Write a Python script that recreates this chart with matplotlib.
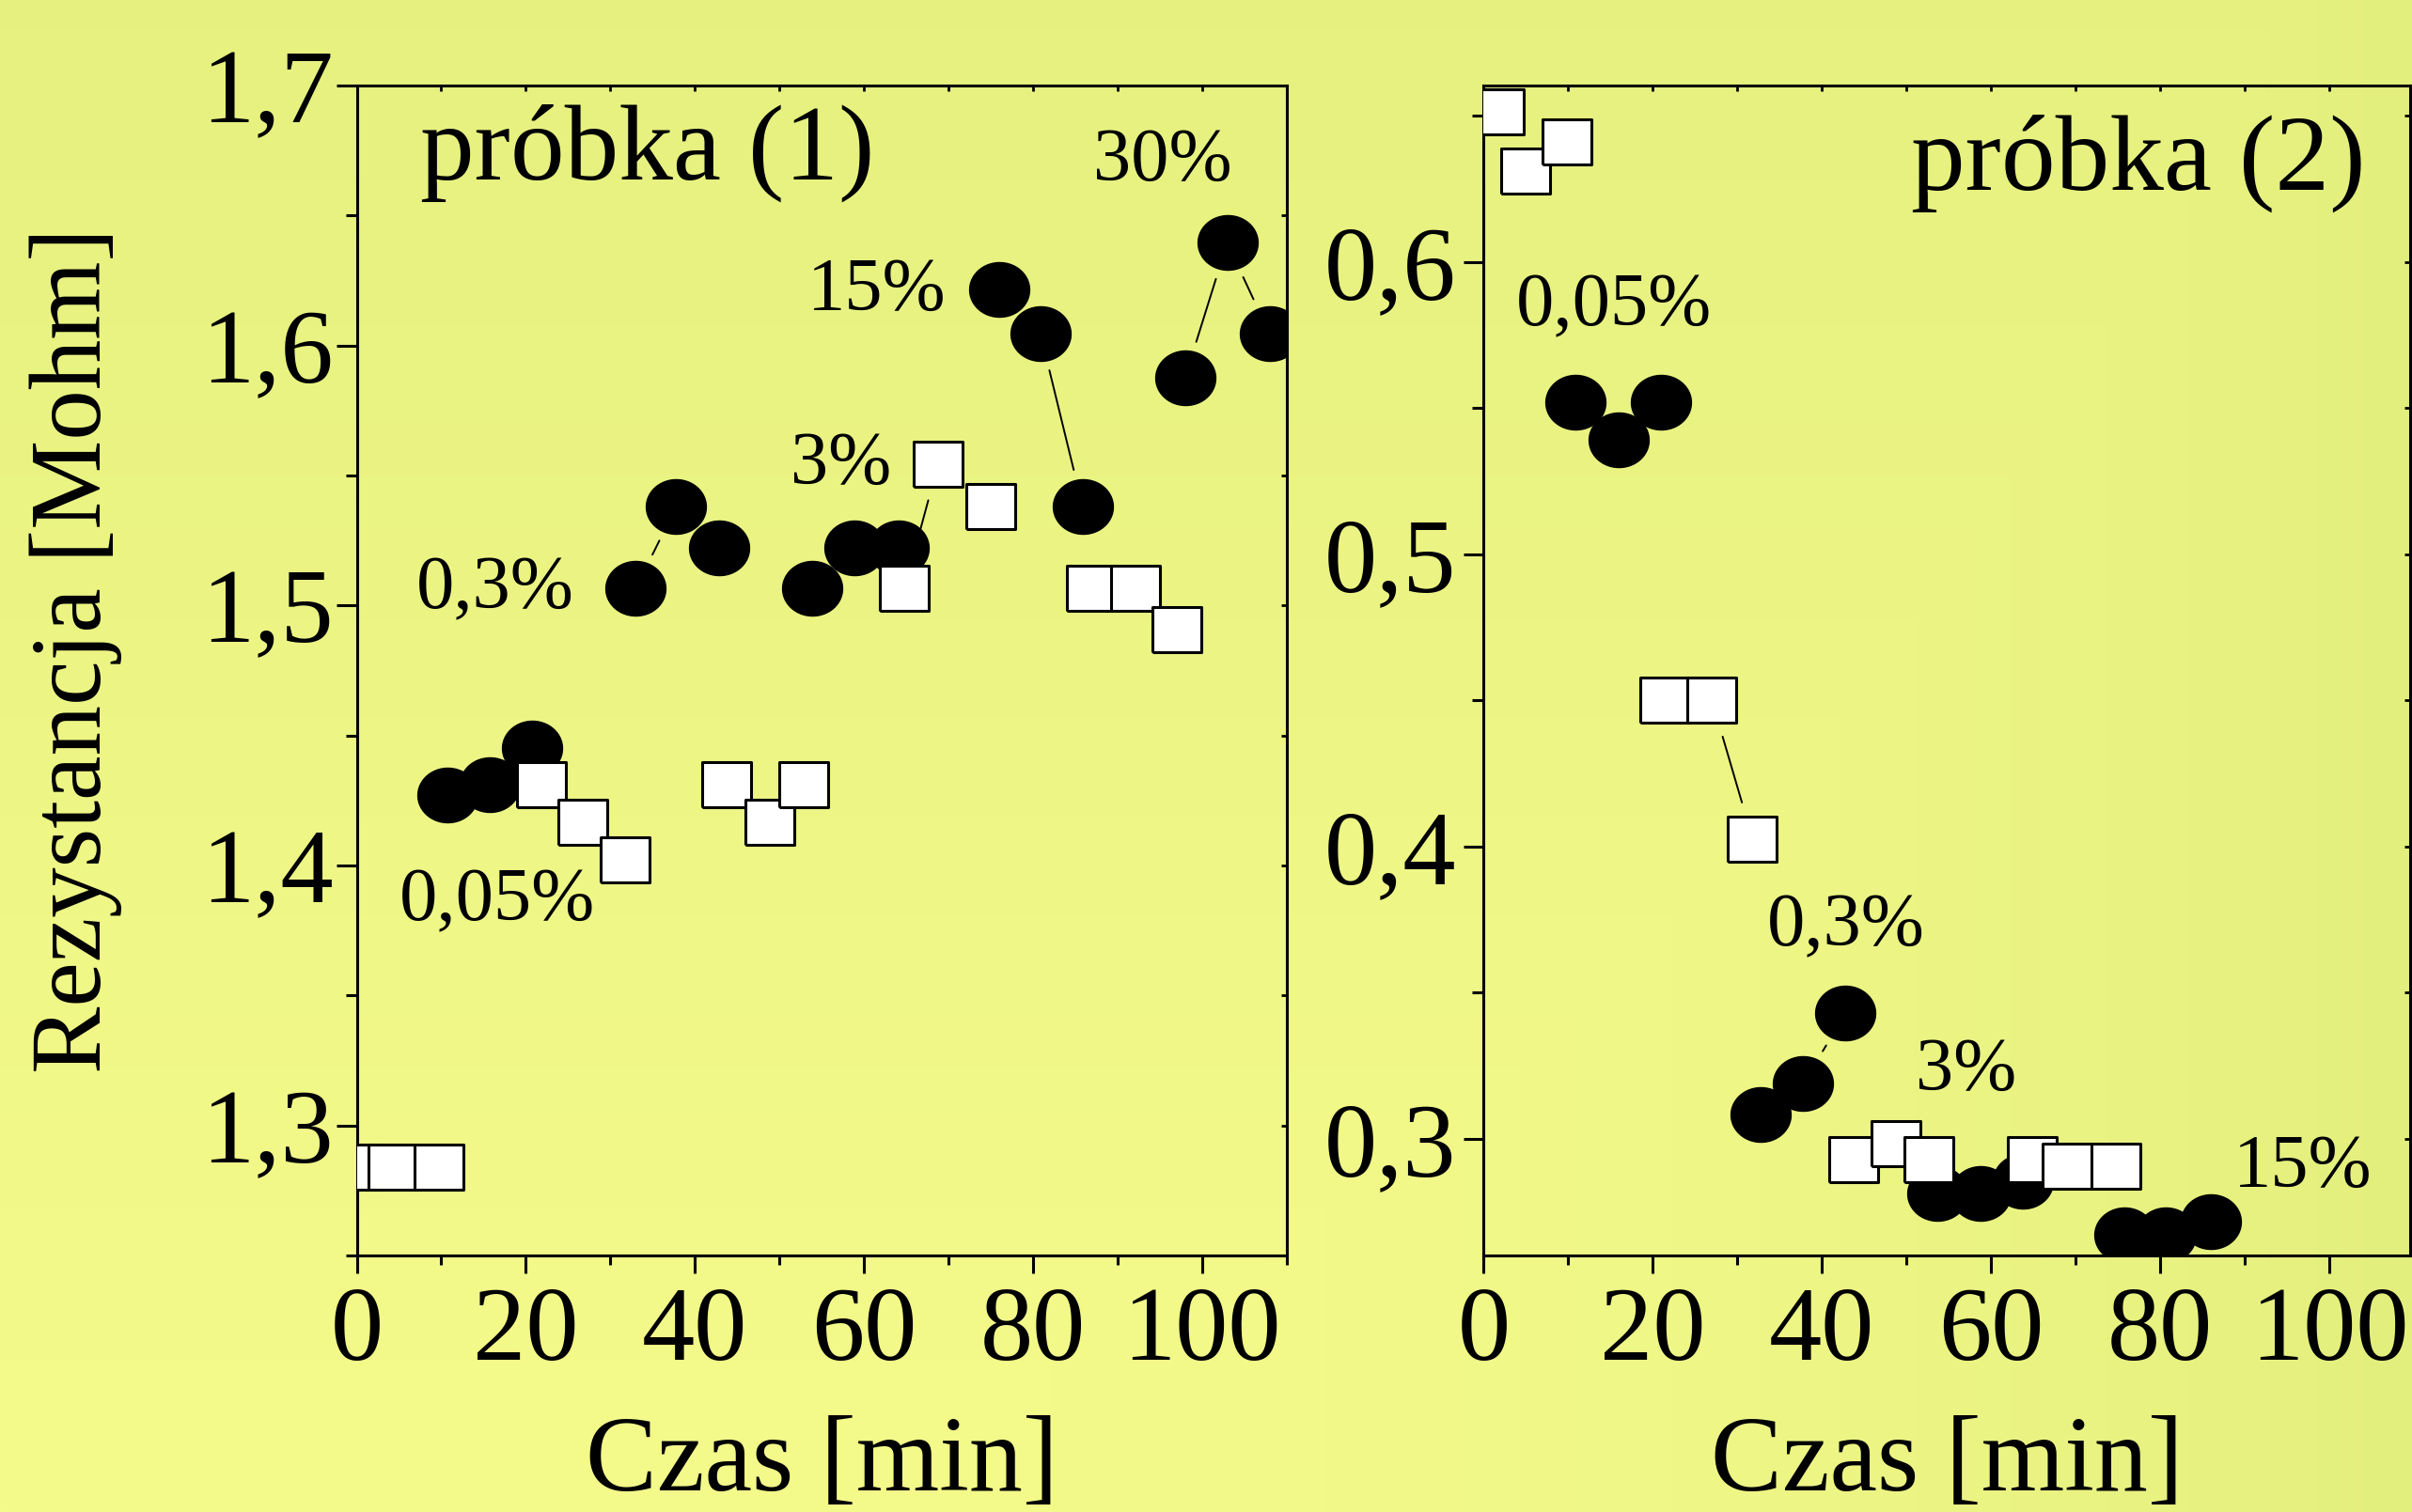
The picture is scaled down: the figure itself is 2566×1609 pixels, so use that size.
import numpy as np
import matplotlib
matplotlib.use('Agg')
import matplotlib.pyplot as plt
from matplotlib.ticker import MultipleLocator, FuncFormatter

plt.rcParams['font.family'] = ['Liberation Serif', 'DejaVu Serif']

# probka (1): time [min] and resistance [Mohm], groups of 3 points per concentration
t1_circ = [10.7, 15.7, 20.7, 33.0, 37.8, 42.9, 53.9, 58.9, 64.1, 76.0, 80.9, 85.9, 98.0, 103.0, 108.0]
r1_circ = [1.427, 1.431, 1.445, 1.5065, 1.538, 1.522, 1.5065, 1.522, 1.522, 1.6216, 1.6046, 1.538, 1.5875, 1.6395, 1.6046]
t1_sq = [0.0, 4.3, 9.7, 21.8, 26.8, 31.8, 43.8, 48.9, 52.9, 64.8, 68.8, 75.0, 86.9, 92.1, 97.0]
r1_sq = [1.284, 1.284, 1.284, 1.431, 1.4165, 1.402, 1.431, 1.4165, 1.431, 1.5065, 1.5545, 1.538, 1.5065, 1.5065, 1.4908]

# probka (2)
t2_circ = [10.9, 16.0, 21.0, 32.8, 37.8, 42.8, 53.7, 58.8, 63.8, 75.8, 80.7, 86.0]
r2_circ = [0.552, 0.539, 0.552, 0.3082, 0.3188, 0.343, 0.2813, 0.2813, 0.2853, 0.2672, 0.2672, 0.2715]
t2_sq = [1.8, 5.0, 9.9, 21.4, 27.0, 31.8, 43.8, 48.8, 52.7, 64.9, 69.0, 74.8]
r2_sq = [0.6514, 0.631, 0.641, 0.450, 0.450, 0.4026, 0.2929, 0.2983, 0.2929, 0.2929, 0.2905, 0.2905]

# concentration labels (text, x, y)
labels1 = [('30%', 95.4, 1.6705), ('15%', 61.5, 1.6208), ('3%', 57.3, 1.554),
           ('0,3%', 16.4, 1.506), ('0,05%', 16.6, 1.386)]
labels2 = [('0,05%', 15.4, 0.5847), ('0,3%', 42.8, 0.3724), ('3%', 57.0, 0.3229), ('15%', 96.8, 0.2897)]

W, H = 2566, 1609
fig = plt.figure(figsize=(W/100., H/100.), dpi=100)

# yellow background gradient
ny, nx = 200, 300
xx, yy = np.meshgrid(np.linspace(0, 1, nx), np.linspace(1, 0, ny))
t = np.maximum(0.85*yy, xx**3)
light = np.array([245, 251, 139])/255.
dark = np.array([227, 239, 125])/255.
grad = light[None, None, :]*(1-t[..., None]) + dark[None, None, :]*t[..., None]
bg = fig.add_axes([0, 0, 1, 1], zorder=-10)
bg.imshow(grad, aspect='auto', extent=[0, 1, 0, 1])
bg.axis('off')

ax1 = fig.add_axes([379.5/W, 273/H, 989/W, 1245/H])
ax2 = fig.add_axes([1578.4/W, 273/H, 986/W, 1245/H])

th = np.linspace(0, 2*np.pi, 80)
ell = np.column_stack([1.1*np.cos(th), np.sin(th)])
sq = np.array([[-1.12, -1], [1.12, -1], [1.12, 1], [-1.12, 1], [-1.12, -1]])

comma = FuncFormatter(lambda v, p: ('%.1f' % v).replace('.', ','))

panels = [(ax1, t1_circ, r1_circ, t1_sq, r1_sq, labels1, (0, 110), (1.25, 1.7), 16, 'próbka (1)'),
          (ax2, t2_circ, r2_circ, t2_sq, r2_sq, labels2, (0, 986/8.996), (0.26, 0.6604), 15, 'próbka (2)')]

gap = 29  # points left free around each marker by the thin lines

for ax, tc, rc, ts, rs, labs, xl, yl, ylen, name in panels:
    ax.set_facecolor('none')
    ax.set_xlim(*xl)
    ax.set_ylim(*yl)

    # thin lines inside each concentration group, kept off the markers
    for tt, rr in [(tc, rc), (ts, rs)]:
        for i in range(0, len(tt), 3):
            for j in range(i, min(i+2, len(tt)-1)):
                a = ax.transData.transform((tt[j], rr[j]))
                b = ax.transData.transform((tt[j+1], rr[j+1]))
                if np.hypot(*(b-a))*72./fig.dpi > 2*gap + 3:
                    ax.annotate('', xy=(tt[j+1], rr[j+1]), xytext=(tt[j], rr[j]),
                                arrowprops=dict(arrowstyle='-', lw=1.4, color='k',
                                                shrinkA=gap, shrinkB=gap), zorder=1)

    ax.plot(tc, rc, ls='none', marker=ell, ms=46, mfc='k', mec='k', mew=1, zorder=2)
    ax.plot(ts, rs, ls='none', marker=sq, ms=38, mfc='white', mec='k', mew=2.2, zorder=3)

    for s, x, y in labs:
        ax.text(x, y, s, fontsize=58, ha='center', va='center')

    ax.xaxis.set_major_locator(MultipleLocator(20))
    ax.xaxis.set_minor_locator(MultipleLocator(10))
    ax.yaxis.set_major_locator(MultipleLocator(0.1))
    ax.yaxis.set_minor_locator(MultipleLocator(0.05))
    ax.yaxis.set_major_formatter(comma)
    ax.tick_params(labelsize=81, width=2.2, direction='out')
    ax.tick_params(axis='x', which='major', length=13.7, pad=10)
    ax.tick_params(axis='x', which='minor', length=7.2, width=2.2)
    ax.tick_params(axis='y', which='major', length=ylen, pad=2 if ax is ax1 else 6)
    ax.tick_params(axis='y', which='minor', length=8.6, width=2.2)
    for sp in ax.spines.values():
        sp.set_linewidth(2.2)

    top = ax.secondary_xaxis('top')
    top.xaxis.set_major_locator(MultipleLocator(20))
    top.xaxis.set_minor_locator(MultipleLocator(10))
    top.tick_params(which='both', direction='in', length=4, width=2, labeltop=False)
    right = ax.secondary_yaxis('right')
    right.yaxis.set_major_locator(MultipleLocator(0.1))
    right.yaxis.set_minor_locator(MultipleLocator(0.05))
    right.tick_params(which='both', direction='in', length=4, width=2, labelright=False)

    ax.set_xlabel('Czas [min]', fontsize=82)
    ax.xaxis.set_label_coords(0.5, -0.137)

ax1.text(7.5, 1.674, 'próbka (1)', fontsize=83, ha='left', va='center')
ax2.text(104.3, 0.6337, 'próbka (2)', fontsize=83, ha='right', va='center')

ax1.set_ylabel('Rezystancja [Mohm]', fontsize=77)
ax1.yaxis.set_label_coords(-0.252, 0.517)

plt.savefig('out.png', dpi=100)
